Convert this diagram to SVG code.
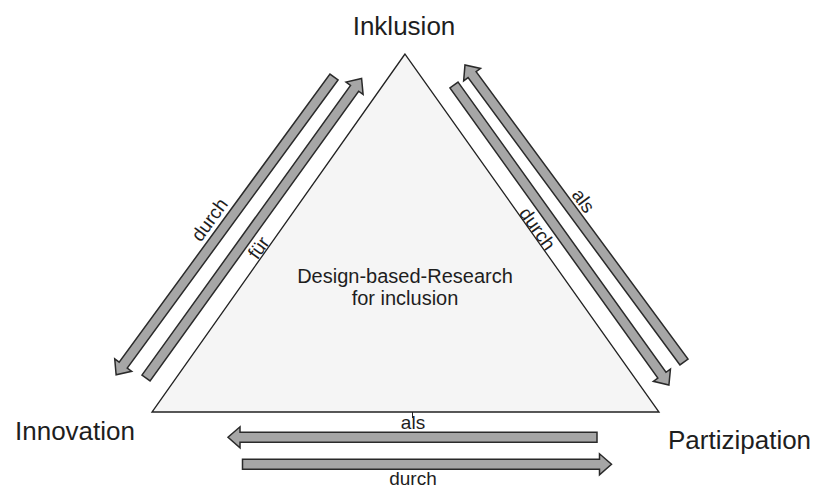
<svg xmlns="http://www.w3.org/2000/svg" xmlns:xlink="http://www.w3.org/1999/xlink" width="818" height="490" viewBox="0 0 818 490">
<style>
.lbl{font-family:"Liberation Sans",Arial,sans-serif;fill:#1e1e1e}
.corner{font-size:26px}
.center{font-size:20px}
.edge{font-size:19px}
.arrow{fill:#a6a6a6;stroke:#2a2a2a;stroke-width:1.5;stroke-linejoin:miter}
.tri{fill:#f5f5f5;stroke:#222;stroke-width:1.3}
</style>
<defs>
<path id="arr" class="arrow" d="M0,-5 H357 V-10.5 L369,0 L357,10.5 V5 H0 Z"/>
</defs>
<rect width="818" height="490" fill="#ffffff"/>
<g id="triangle">
<polygon class="tri" points="405,54 152,412 659,412"/>
<text class="lbl center" x="405" y="283" text-anchor="middle">Design-based-Research</text>
<text class="lbl center" x="405" y="305" text-anchor="middle">for inclusion</text>
</g>
<g id="inklusion"><text class="lbl corner" x="404" y="35" text-anchor="middle">Inklusion</text></g>
<g id="innovation"><text class="lbl corner" x="15" y="440">Innovation</text></g>
<g id="partizipation"><text class="lbl corner" x="668" y="449">Partizipation</text></g>
<g id="connectors">
<use xlink:href="#arr" transform="translate(334,77) rotate(126.19)"/>
<use xlink:href="#arr" transform="translate(146,378) rotate(-54.25)"/>
<use xlink:href="#arr" transform="translate(684,362) rotate(-126.41)"/>
<use xlink:href="#arr" transform="translate(454,85) rotate(54.38)"/>
<use xlink:href="#arr" transform="translate(597,437.3) rotate(180)"/>
<use xlink:href="#arr" transform="translate(242.5,464.3)"/>
<line x1="412.5" y1="412" x2="412.5" y2="418" stroke="#222" stroke-width="1"/>
<text class="lbl edge" transform="translate(214.8,223.5) rotate(-53.8)" text-anchor="middle">durch</text>
<text class="lbl edge" transform="translate(263.9,251.5) rotate(-54.25)" text-anchor="middle">für</text>
<text class="lbl edge" transform="translate(578.2,204.6) rotate(53.6)" text-anchor="middle">als</text>
<text class="lbl edge" transform="translate(532.1,232.5) rotate(54.4)" text-anchor="middle">durch</text>
<text class="lbl edge" x="413" y="429" text-anchor="middle">als</text>
<text class="lbl edge" x="413" y="485" text-anchor="middle">durch</text>
</g>
</svg>
